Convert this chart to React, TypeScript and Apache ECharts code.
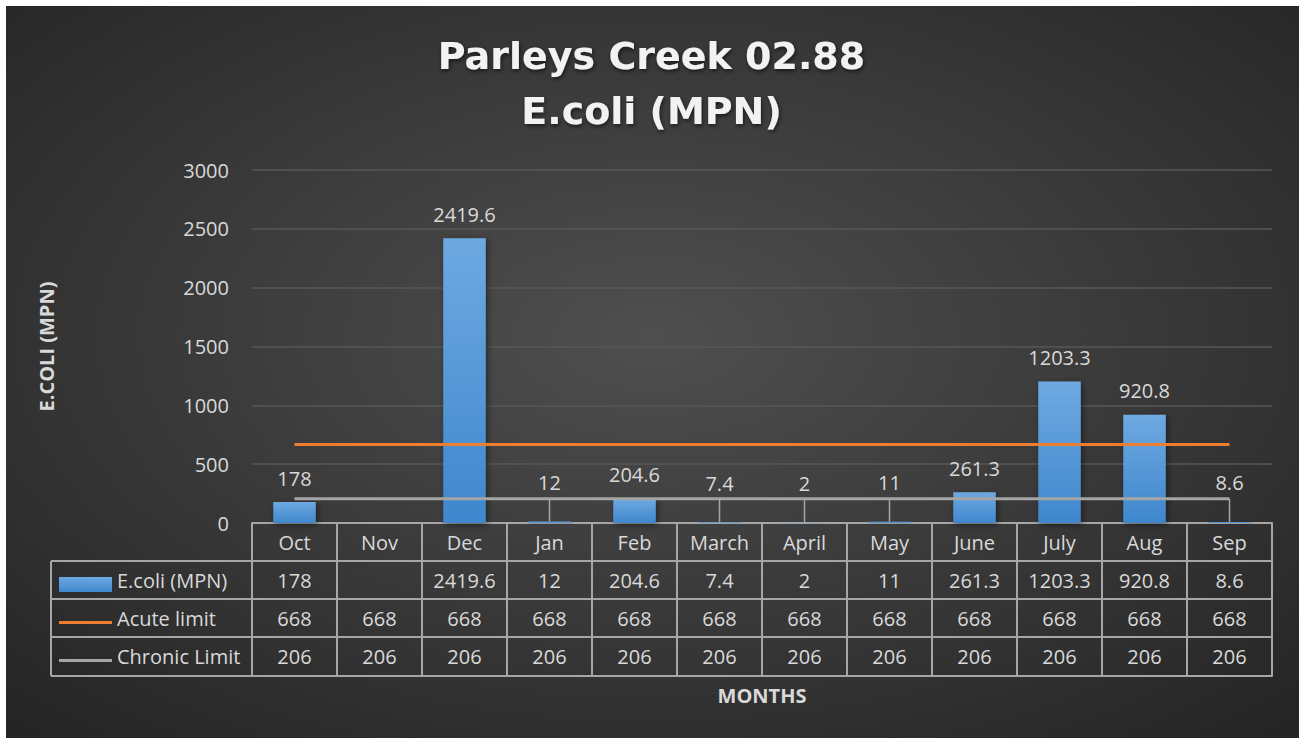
import React, { useEffect, useRef } from "react";
import * as echarts from "echarts";

const months = ["Oct", "Nov", "Dec", "Jan", "Feb", "March", "April", "May", "June", "July", "Aug", "Sep"];
const ecoli: (number | null)[] = [178, null, 2419.6, 12, 204.6, 7.4, 2, 11, 261.3, 1203.3, 920.8, 8.6];
const acuteLimit = [668, 668, 668, 668, 668, 668, 668, 668, 668, 668, 668, 668];
const chronicLimit = [206, 206, 206, 206, 206, 206, 206, 206, 206, 206, 206, 206];
const seriesNames = ["E.coli (MPN)", "Acute limit", "Chronic Limit"];
const titleLines = ["Parleys Creek 02.88", "E.coli (MPN)"];
const yAxisName = "E.COLI (MPN)";
const xAxisName = "MONTHS";

const FONT = "'Open Sans', 'DejaVu Sans', sans-serif";
const TEXT = "#d9d9d9";
const TABLE_LINE = "#a6a6a6";
const ACUTE = "#ed7d31";
const CHRONIC = "#a5a5a5";

const fmt = (v: number | null | undefined) => (v === null || v === undefined ? "" : String(v));

export default function App() {
  const ref = useRef<HTMLDivElement>(null);

  useEffect(() => {
    if (!ref.current) return;
    const chart = echarts.init(ref.current, undefined, { renderer: "svg" });

    const gridLeft = 252;
    const gridRight = 1272;
    const axisY = 523;
    const rowOffsets = [0, 38, 76, 114, 153];
    const tableRows = [months.map(String), ecoli.map(fmt), acuteLimit.map(fmt), chronicLimit.map(fmt)];

    const tableAxes: any[] = tableRows.map((row, r) => ({
      type: "category",
      gridIndex: 0,
      position: "bottom",
      offset: rowOffsets[r],
      data: months,
      boundaryGap: true,
      axisLine: { show: true, lineStyle: { color: TABLE_LINE, width: 2 } },
      axisTick: {
        show: true,
        interval: 0,
        length: rowOffsets[r + 1] - rowOffsets[r],
        lineStyle: { color: TABLE_LINE, width: 2 },
      },
      axisLabel: {
        show: true,
        interval: 0,
        margin: 9,
        color: TEXT,
        fontFamily: FONT,
        fontSize: 20,
        lineHeight: 20,
        formatter: (_v: string, idx: number) => row[idx],
      },
      splitLine: { show: false },
    }));
    tableAxes.push({
      type: "category",
      gridIndex: 0,
      position: "bottom",
      offset: rowOffsets[4],
      data: months,
      axisLine: { show: true, lineStyle: { color: TABLE_LINE, width: 2 } },
      axisTick: { show: false },
      axisLabel: { show: false },
      name: xAxisName,
      nameLocation: "middle",
      nameGap: 9,
      nameTextStyle: { color: TEXT, fontFamily: FONT, fontSize: 20, fontWeight: "bold" },
    });

    const legendLines: any[] = [];
    [1, 2, 3, 4].forEach((r) => {
      legendLines.push({
        type: "line",
        shape: { x1: 51, y1: axisY + rowOffsets[r], x2: gridLeft, y2: axisY + rowOffsets[r] },
        style: { stroke: TABLE_LINE, lineWidth: 2 },
        z: 5,
      });
    });
    legendLines.push({
      type: "line",
      shape: { x1: 51, y1: axisY + rowOffsets[1], x2: 51, y2: axisY + rowOffsets[4] },
      style: { stroke: TABLE_LINE, lineWidth: 2 },
      z: 5,
    });

    const barColor = new echarts.graphic.LinearGradient(0, 0, 0, 1, [
      { offset: 0, color: "#6ea9e1" },
      { offset: 1, color: "#3f87cd" },
    ]);

    chart.setOption({
      animation: false,
      backgroundColor: "#ffffff",
      textStyle: { fontFamily: FONT },
      graphic: [
        {
          type: "rect",
          shape: { x: 6, y: 6, width: 1293, height: 732 },
          style: {
            fill: new echarts.graphic.RadialGradient(0.5, 0.45, 0.72, [
              { offset: 0, color: "#4f4f4f" },
              { offset: 1, color: "#252525" },
            ]),
          },
          z: -100,
          silent: true,
        },
        ...legendLines,
      ],
      title: {
        text: titleLines.join("\n"),
        left: "center",
        top: 23,
        textStyle: {
          color: "#f2f2f2",
          fontFamily: "'DejaVu Sans', sans-serif",
          fontSize: 38,
          fontWeight: "bold",
          lineHeight: 55,
          textShadowColor: "rgba(0,0,0,0.6)",
          textShadowBlur: 4,
          textShadowOffsetX: 1,
          textShadowOffsetY: 2,
        },
      },
      legend: {
        data: [
          { name: seriesNames[0], icon: "rect" },
          { name: seriesNames[1], icon: "path://M0,0h53v3h-53z", itemStyle: { color: ACUTE } },
          { name: seriesNames[2], icon: "path://M0,0h53v3h-53z", itemStyle: { color: CHRONIC } },
        ],
        orient: "vertical",
        left: 59,
        top: 570,
        padding: 0,
        itemWidth: 53,
        itemHeight: 15,
        itemGap: 9,
        formatter: (name: string) => `{t|${name}}`,
        textStyle: {
          color: TEXT,
          fontFamily: FONT,
          fontSize: 20,
          rich: {
            t: {
              color: TEXT,
              fontFamily: FONT,
              fontSize: 20,
              lineHeight: 20,
              padding: [0, 0, 9, 0],
            },
          },
        },
        selectedMode: false,
      },
      grid: { left: gridLeft, right: 1303 - gridRight, top: 170, bottom: 738 - axisY },
      xAxis: tableAxes,
      yAxis: {
        type: "value",
        min: 0,
        max: 3000,
        interval: 500,
        name: yAxisName,
        nameLocation: "middle",
        nameGap: 196,
        nameTextStyle: { color: TEXT, fontFamily: FONT, fontSize: 20, fontWeight: "bold" },
        axisLine: { show: false },
        axisTick: { show: false },
        axisLabel: {
          color: TEXT,
          fontFamily: FONT,
          fontSize: 20,
          margin: 23,
          formatter: (v: number) => String(v),
        },
        splitLine: { show: true, lineStyle: { color: "#575757", width: 1.5 } },
      },
      series: [
        {
          name: seriesNames[0],
          type: "bar",
          data: ecoli.map((v) => ({
            value: v,
            label: { distance: v !== null && v < 100 ? 29 : 14 },
          })),
          barWidth: "50%",
          itemStyle: {
            color: barColor,
            shadowColor: "rgba(0,0,0,0.45)",
            shadowBlur: 6,
            shadowOffsetX: 2,
            shadowOffsetY: 2,
          },
          label: {
            show: true,
            position: "top",
            color: TEXT,
            fontFamily: FONT,
            fontSize: 20,
            lineHeight: 20,
            formatter: (p: any) => fmt(p.value),
          },
          z: 2,
        },
        {
          name: seriesNames[1],
          type: "line",
          data: acuteLimit,
          symbol: "none",
          lineStyle: { color: ACUTE, width: 3 },
          itemStyle: { color: ACUTE },
          z: 3,
        },
        {
          name: seriesNames[2],
          type: "line",
          data: chronicLimit,
          symbol: "none",
          lineStyle: { color: CHRONIC, width: 3 },
          itemStyle: { color: CHRONIC },
          z: 3,
        },
        {
          name: "leader",
          type: "custom",
          silent: true,
          data: ecoli.map((v, i) => [i, v === null ? 0 : v]),
          renderItem: (params: any, api: any) => {
            const idx = params.dataIndex;
            const v = ecoli[idx];
            if (v === null || v >= 100) return null;
            const pt = api.coord([api.value(0), api.value(1)]);
            return {
              type: "line",
              shape: { x1: pt[0], y1: pt[1] - 23, x2: pt[0], y2: pt[1] },
              style: { stroke: "#a6a6a6", lineWidth: 1.5 },
            };
          },
          z: 4,
        },
      ],
    });

    return () => chart.dispose();
  }, []);

  return (
    <div
      ref={ref}
      style={{ position: "fixed", left: 0, top: 0, width: 1303, height: 738 }}
    />
  );
}
